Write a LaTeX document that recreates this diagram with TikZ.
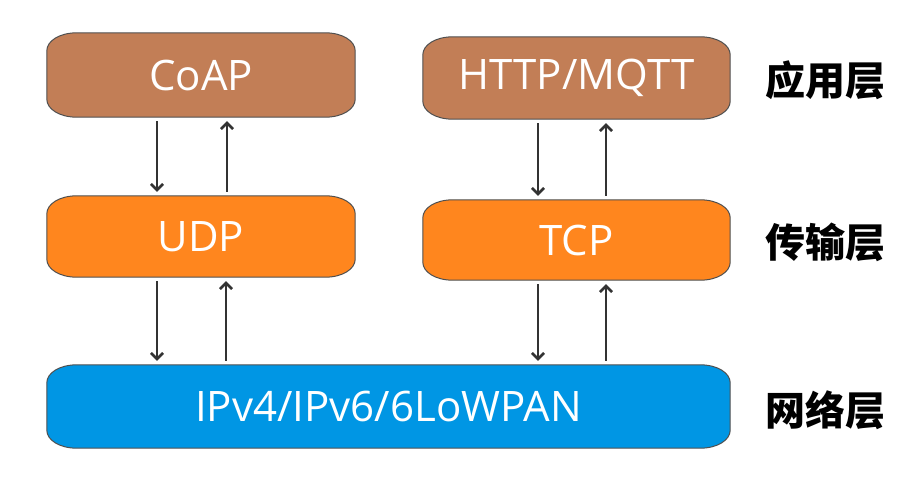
\documentclass[tikz,border=0pt]{standalone}
\usepackage{fontspec}
\usetikzlibrary{arrows.meta,backgrounds}
\setmainfont{Open Sans}
\newfontfamily\cjk{Noto Sans CJK SC}
\definecolor{appbrown}{RGB}{194,126,86}
\definecolor{tportorange}{RGB}{255,134,30}
\definecolor{netblue}{RGB}{0,150,228}
\definecolor{boxedge}{RGB}{80,80,80}
% frame with wide, flat corners round a layer node
\newcommand\layerframe[2]{%
  \filldraw[fill=#2,draw=boxedge,line width=1pt]
    ([xshift=30pt]#1.north west) -- ([xshift=-30pt]#1.north east)
    .. controls ([xshift=-13pt]#1.north east) and ([yshift=-8pt]#1.north east) .. ([yshift=-18pt]#1.north east)
    -- ([yshift=18pt]#1.south east)
    .. controls ([yshift=8pt]#1.south east) and ([xshift=-13pt]#1.south east) .. ([xshift=-30pt]#1.south east)
    -- ([xshift=30pt]#1.south west)
    .. controls ([xshift=13pt]#1.south west) and ([yshift=8pt]#1.south west) .. ([yshift=18pt]#1.south west)
    -- ([yshift=-18pt]#1.north west)
    .. controls ([yshift=-8pt]#1.north west) and ([xshift=13pt]#1.north west) .. cycle;}
\begin{document}
\begin{tikzpicture}[x=1pt,y=-1pt,
    layerbox/.style={text=white,font=\fontsize{42}{42}\selectfont,inner sep=0pt},
    layername/.style={font=\cjk\bfseries\fontsize{40}{40}\selectfont},
    flow/.style={draw=black!80,line width=2.6pt,-{Straight Barb[length=6pt,width=12pt]},
        shorten >=4pt,shorten <=4pt}]
    \useasboundingbox (0,0) rectangle (913,498);

    % Draw layer boxes
    \node[layerbox,minimum width=308pt,minimum height=84pt] (coap) at (201,75) {CoAP};
    \node[layerbox,minimum width=307pt,minimum height=82pt] (http) at (576.5,78) {HTTP/MQTT};
    \node[layerbox,minimum width=308pt,minimum height=81pt] (udp) at (201,236.5) {UDP};
    \node[layerbox,minimum width=307pt,minimum height=80pt] (tcp) at (576.5,240) {TCP};
    \node[layerbox,minimum width=683pt,minimum height=83pt] (ip) at (388.5,406.5) {IPv4/IPv6/6LoWPAN};

    \begin{scope}[on background layer]
        \layerframe{coap}{appbrown}
        \layerframe{http}{appbrown}
        \layerframe{udp}{tportorange}
        \layerframe{tcp}{tportorange}
        \layerframe{ip}{netblue}
    \end{scope}

    % Arrows between layers
    \draw[flow] ([xshift=-44pt]coap.south) -- ([xshift=-44pt]coap.south |- udp.north);
    \draw[flow] ([xshift=26pt]udp.north) -- ([xshift=26pt]udp.north |- coap.south);
    \draw[flow] ([xshift=-38.5pt]http.south) -- ([xshift=-38.5pt]http.south |- tcp.north);
    \draw[flow] ([xshift=29.5pt]tcp.north) -- ([xshift=29.5pt]tcp.north |- http.south);
    \draw[flow] ([xshift=-44pt]udp.south) -- ([xshift=-44pt]udp.south |- ip.north);
    \draw[flow] ([xshift=25pt]udp.south |- ip.north) -- ([xshift=25pt]udp.south);
    \draw[flow] ([xshift=-38.5pt]tcp.south) -- ([xshift=-38.5pt]tcp.south |- ip.north);
    \draw[flow] ([xshift=29.5pt]tcp.south |- ip.north) -- ([xshift=29.5pt]tcp.south);

    % Layer names
    \node[layername] (applayer) at (825,80) {应用层};
    \node[layername] (tportlayer) at (825,242) {传输层};
    \node[layername] (netlayer) at (825,410) {网络层};
\end{tikzpicture}
\end{document}
